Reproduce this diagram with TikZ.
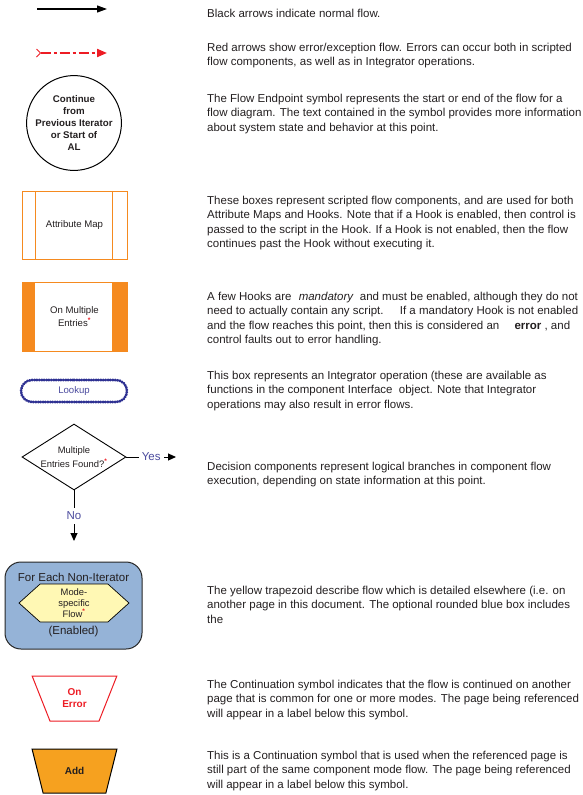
\documentclass[tikz,border=0pt]{standalone}
\usepackage{fontspec}
\setmainfont{Liberation Sans}
\usetikzlibrary{arrows.meta,shapes.geometric,shapes.misc,shapes.symbols,positioning}
\definecolor{flowred}{HTML}{ED1C24}
\definecolor{hookorange}{HTML}{F58A1F}
\definecolor{addorange}{HTML}{F6A11F}
\definecolor{opblue}{HTML}{2E3192}
\definecolor{lookupblue}{HTML}{4B4B9E}
\definecolor{eachblue}{HTML}{95B3D7}
\definecolor{flowyellow}{HTML}{FFF8B4}
\definecolor{textgray}{HTML}{231F20}
\newcommand{\reqstar}{\textsuperscript{\textcolor{flowred}{\bfseries *}}}
\tikzset{
    flow/.style={
    draw=black,line width=1.1pt,-{Triangle[length=10pt,width=7pt]}
    },
    errflow/.style={
    draw=flowred,line width=2pt,dash pattern=on 10pt off 3pt on 3pt off 3pt,
    {Straight Barb[reversed,length=4pt,width=8pt,line width=1pt]}-{Triangle[length=10pt,width=8pt]}
    },
    branch/.style={
    draw=black,line width=1pt,-{Triangle[length=8pt,width=7pt]}
    },
    answer/.style={
    fill=white,inner sep=3pt,text=lookupblue,font=\fontsize{11.5}{13}\selectfont
    },
    endpoint/.style={
    circle,draw=black,line width=1pt,minimum size=90pt,inner sep=0pt,align=center,
    text=textgray,font=\bfseries\fontsize{9.7}{12.2}\selectfont
    },
    scripted/.style={
    rectangle,draw=hookorange,line width=0.9pt,minimum width=105pt,minimum height=68pt,
    text=textgray,align=center,font=\fontsize{9.6}{13}\selectfont,
    path picture={
      \draw[hookorange,line width=0.9pt] ([xshift=13pt]path picture bounding box.north west) -- ([xshift=13pt]path picture bounding box.south west);
      \draw[hookorange,line width=0.9pt] ([xshift=-15pt]path picture bounding box.north east) -- ([xshift=-15pt]path picture bounding box.south east);}
    },
    hook/.style={
    rectangle,draw=hookorange,line width=0.9pt,minimum width=105pt,minimum height=69pt,
    text=textgray,align=center,font=\fontsize{9.6}{13}\selectfont,
    path picture={
      \fill[hookorange] (path picture bounding box.north west) rectangle ([xshift=13pt]path picture bounding box.south west);
      \fill[hookorange] (path picture bounding box.north east) rectangle ([xshift=-15pt]path picture bounding box.south east);}
    },
    integrator/.style={
    rounded rectangle,draw=opblue,line width=2.6pt,dash pattern=on 0.9pt off 1.5pt,line cap=round,
    minimum width=106pt,minimum height=22pt,inner sep=0pt,text=lookupblue,font=\fontsize{9.6}{11}\selectfont
    },
    decision/.style={
    diamond,draw=black,line width=0.9pt,aspect=1.58,minimum width=104pt,minimum height=66pt,
    inner sep=0pt,align=center,text=textgray,font=\fontsize{9.4}{14}\selectfont
    },
    foreach/.style={
    rectangle,rounded corners=16pt,draw=black!85,line width=1pt,fill=eachblue,
    minimum width=137pt,minimum height=87pt
    },
    eachlabel/.style={
    inner sep=0pt,text=textgray,font=\fontsize{11.5}{13}\selectfont
    },
    modeflow/.style={
    signal,signal to=east and west,signal pointer angle=84,draw=black,line width=0.7pt,fill=flowyellow,
    minimum width=110pt,minimum height=38pt,inner sep=0pt,align=center,text=textgray,
    font=\fontsize{9.4}{11}\selectfont
    },
    contcommon/.style={
    trapezium,trapezium stretches=true,shape border rotate=180,trapezium left angle=65,trapezium right angle=65,
    draw=flowred,line width=1pt,fill=white,minimum width=85pt,minimum height=45pt,inner sep=0pt,
    align=center,text=flowred,font=\bfseries\fontsize{10}{12}\selectfont
    },
    contmode/.style={
    trapezium,trapezium stretches=true,shape border rotate=180,trapezium left angle=65,trapezium right angle=65,
    draw=black,line width=1pt,fill=addorange,minimum width=85pt,minimum height=44pt,inner sep=0pt,
    align=center,text=textgray,font=\bfseries\fontsize{10}{12}\selectfont
    },
    desc/.style={
    anchor=base west,align=left,inner sep=0pt,text=textgray,font=\fontsize{11.5}{14.5}\selectfont
    },
}
\begin{document}
\begin{tikzpicture}[x=1pt, y=-1pt, on grid]
   \useasboundingbox (0,0) rectangle (582,795);
   %arrows
   \coordinate (normA) at (37,9);
   \coordinate (normB) at (107,9);
   \coordinate (errA) at (36,53);
   \coordinate (errB) at (107,53);
   %endpoint
   \node[endpoint] (start) at (74,123) {Continue\\from\\Previous Iterator\\or Start of\\AL};
   %scripted
   \node[scripted] (attrmap) at (74.5,225) {Attribute Map};
   %hook
   \node[hook] (multi) at (74.5,316.5) {On Multiple\\Entries\reqstar};
   %integrator
   \node[integrator] (lookup) at (74,391) {Lookup};
   %decision
   \node[decision] (found) at (74,457) {Multiple\\Entries Found?\reqstar};
   \coordinate (yesend) at (176,457);
   \coordinate (noend) at (74,541);
   %for each
   \node[foreach] (each) at (73.5,605.5) {};
   \node[eachlabel] (eachtop) [below=11pt of each.north] {For Each Non-Iterator};
   \node[eachlabel] (eachbot) [above=12pt of each.south] {(Enabled)};
   \node[modeflow] (mode) at (74,603) {Mode-\\specific\\Flow\reqstar};
   %continuation
   \node[contcommon] (onerr) at (74.5,698.5) {On\\Error};
   \node[contmode] (add) at (74.5,771) {Add};

   %texts (placed at the baseline of the last line)
   \node[desc] (dnorm) at (207,17) {Black arrows indicate normal flow.};
   \node[desc] (derr) at (207,65.5) {Red arrows show error/exception flow. Errors can occur both in scripted\\flow components, as well as in Integrator operations.};
   \node[desc] (dend) at (207,131) {The Flow Endpoint symbol represents the start or end of the flow for a\\flow diagram. The text contained in the symbol provides more information\\about system state and behavior at this point.};
   \node[desc] (dscript) at (207,247.5) {These boxes represent scripted flow components, and are used for both\\Attribute Maps and Hooks. Note that if a Hook is enabled, then control is\\passed to the script in the Hook. If a Hook is not enabled, then the flow\\continues past the Hook without executing it.};
   \node[desc] (dhook) at (207,343.5) {A few Hooks are \hspace{4pt}\textit{mandatory}\hspace{3pt} and must be enabled, although they do not\\need to actually contain any script.\hspace{12pt} If a mandatory Hook is not enabled\\and the flow reaches this point, then this is considered an \hspace{12pt}\textbf{error} , and\\control faults out to error handling.};
   \node[desc] (dop) at (207,408) {This box represents an Integrator operation (these are available as\\functions in the component Interface\ \ object. Note that Integrator\\operations may also result in error flows.};
   \node[desc] (ddec) at (207,484.5) {Decision components represent logical branches in component flow\\execution, depending on state information at this point.};
   \node[desc] (dmode) at (207,623) {The yellow trapezoid describe flow which is detailed elsewhere (i.e. on\\another page in this document. The optional rounded blue box includes\\the};
   \node[desc] (dcommon) at (207,717) {The Continuation symbol indicates that the flow is continued on another\\page that is common for one or more modes. The page being referenced\\will appear in a label below this symbol.};
   \node[desc] (dsame) at (207,788) {This is a Continuation symbol that is used when the referenced page is\\still part of the same component mode flow. The page being referenced\\will appear in a label below this symbol.};

   \draw[flow] (normA) -- (normB);
   \draw[errflow] (errA) -- (errB);
   \draw[branch] (found.east) -- node[answer] {Yes} (yesend);
   \draw[branch] (found.south) -- node[answer,inner ysep=4pt] {No} (noend);
\end{tikzpicture}
\end{document}
